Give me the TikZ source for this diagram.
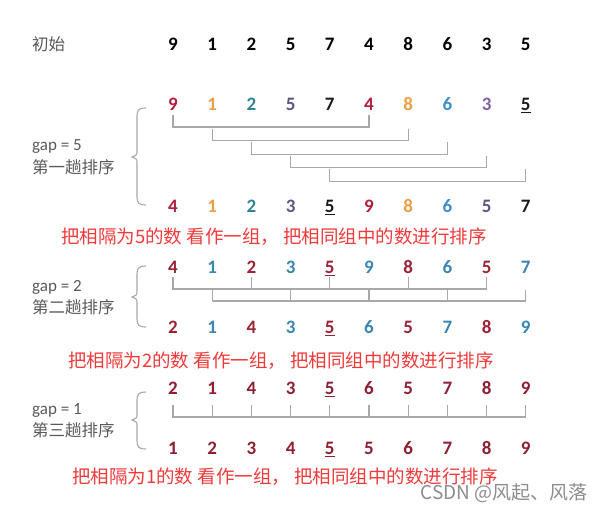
\documentclass[tikz,border=0pt]{standalone}
\usepackage{fontspec}
\newfontfamily\cjkfont{Noto Sans CJK SC}
\newfontfamily\calfont{Carlito}
\definecolor{lgray}{HTML}{A8A8A8}
\definecolor{txtgray}{HTML}{595959}
\definecolor{redtxt}{HTML}{F03A3A}
\definecolor{cA}{HTML}{B0203E}
\definecolor{cB}{HTML}{E8A048}
\definecolor{cC}{HTML}{2E8296}
\definecolor{cCb}{HTML}{3A8FC8}
\definecolor{cD}{HTML}{5E5580}
\definecolor{cDb}{HTML}{7E60A8}
\definecolor{cE}{HTML}{1A1A1A}
\definecolor{dred}{HTML}{9B2335}
\definecolor{dblue}{HTML}{3A86AE}
\definecolor{gred}{HTML}{8E1F33}
\newcommand\sortbrace[3]{%
  \draw[brc] (146,#1) .. controls (139,#1) and (137,{#1+2}) .. (137,{#1+8})
    -- (137,{#2-6}) .. controls (137,{#2-2}) .. (132,#2)
    .. controls (137,{#2+2}) .. (137,{#2+6})
    -- (137,{#3-8}) .. controls (137,{#3-2}) and (139,#3) .. (146,#3);}
\begin{document}
\begin{tikzpicture}[x=1pt,y=-1pt,
  num/.style={font=\calfont\bfseries\fontsize{19}{19}\selectfont, inner sep=0pt, anchor=base},
  lbl/.style={font=\cjkfont\fontsize{16.5}{18}\selectfont, text=txtgray, inner sep=0pt, anchor=west},
  gaplbl/.style={font=\calfont\fontsize{17}{18}\selectfont, text=txtgray, inner sep=0pt, anchor=west},
  redline/.style={font=\cjkfont\fontsize{18.5}{20}\selectfont, text=redtxt, inner sep=0pt},
  br/.style={draw=lgray, line width=1.1pt},
  brc/.style={draw=lgray, line width=1.1pt}]
\useasboundingbox (0,0) rectangle (598,511);

% labels
\node[lbl] (linit) at (32,44) {初始};
\node[gaplbl] (lg5) at (32,147) {gap = 5};
\node[lbl] (lg5b) at (32,167) {第一趟排序};
\node[gaplbl] (lg2) at (32,287) {gap = 2};
\node[lbl] (lg2b) at (32,307) {第二趟排序};
\node[gaplbl] (lg1) at (32,410) {gap = 1};
\node[lbl] (lg1b) at (32,430) {第三趟排序};

% initial row
\foreach \v [count=\i from 0] in {9,1,2,5,7,4,8,6,3,5}
  \node[num, text=black] (init\i) at ({173+39.2*\i},50.5) {\v};

% gap 5
\foreach \v/\c [count=\i from 0] in {9/cA,1/cB,2/cC,5/cD,7/cE,4/cA,8/cB,6/cCb,3/cDb,{\underline{5}}/cE}
  \node[num, text=\c] (g5t\i) at ({173+39.2*\i},110.5) {\v};
\foreach \v/\c [count=\i from 0] in {4/cA,1/cB,2/cC,3/cD,{\underline{5}}/cE,9/cA,8/cB,6/cCb,5/cD,7/cE}
  \node[num, text=\c] (g5b\i) at ({173+39.2*\i},212.5) {\v};
\foreach \k in {0,...,4} {
  \pgfmathtruncatemacro\r{\k+5}
  \pgfmathsetmacro\yh{127+13.6*\k}
  \pgfmathsetmacro\yt{\yh-12}
  \coordinate (h5\k) at (0,\yh);
  \coordinate (t5\k) at (0,\yt);
  \draw[br] (g5t\k |- t5\k) -- (g5t\k |- h5\k) -- (g5t\r |- h5\k) -- (g5t\r |- t5\k);
}
\sortbrace{108}{157}{205}
\node[redline] (red5) at (274,237) {把相隔为5的数 看作一组， 把相同组中的数进行排序};

% gap 2
\foreach \v/\c [count=\i from 0] in {4/dred,1/dblue,2/dred,3/dblue,{\underline{5}}/dred,9/dblue,8/dred,6/dblue,5/dred,7/dblue}
  \node[num, text=\c] (g2t\i) at ({173+39.2*\i},273.5) {\v};
\foreach \v/\c [count=\i from 0] in {2/dred,1/dblue,4/dred,3/dblue,{\underline{5}}/dred,6/dblue,5/dred,7/dblue,8/dred,9/dblue}
  \node[num, text=\c] (g2b\i) at ({173+39.2*\i},333.5) {\v};
\coordinate (hA) at (0,289);
\coordinate (tA) at (0,277);
\coordinate (hB) at (0,301);
\coordinate (tB) at (0,290);
\draw[br] (g2t0 |- tA) -- (g2t0 |- hA) -- (g2t8 |- hA) -- (g2t8 |- tA);
\foreach \k in {2,4,6} \draw[br] (g2t\k |- tA) -- (g2t\k |- hA);
\draw[br] (g2t1 |- tB) -- (g2t1 |- hB) -- (g2t9 |- hB) -- (g2t9 |- tB);
\foreach \k in {3,5,7} \draw[br] (g2t\k |- tB) -- (g2t\k |- hB);
\sortbrace{266}{297}{327}
\node[redline] (red2) at (281,361) {把相隔为2的数 看作一组， 把相同组中的数进行排序};

% gap 1
\foreach \v [count=\i from 0] in {2,1,4,3,{\underline{5}},6,5,7,8,9}
  \node[num, text=gred] (g1t\i) at ({173+39.2*\i},394.5) {\v};
\foreach \v [count=\i from 0] in {1,2,3,4,{\underline{5}},5,6,7,8,9}
  \node[num, text=gred] (g1b\i) at ({173+39.2*\i},454.5) {\v};
\coordinate (h1) at (0,417);
\coordinate (t1) at (0,405);
\draw[br] (g1t0 |- t1) -- (g1t0 |- h1) -- (g1t9 |- h1) -- (g1t9 |- t1);
\foreach \k in {1,...,8} \draw[br] (g1t\k |- t1) -- (g1t\k |- h1);
\sortbrace{392}{420}{449}
\node[redline] (red1) at (285,477) {把相隔为1的数 看作一组， 把相同组中的数进行排序};

% watermark
\node[font=\cjkfont\fontsize{19}{20}\selectfont, text=black!45, inner sep=0pt, anchor=east] (wm) at (588,493) {CSDN @风起、风落};
\end{tikzpicture}
\end{document}
